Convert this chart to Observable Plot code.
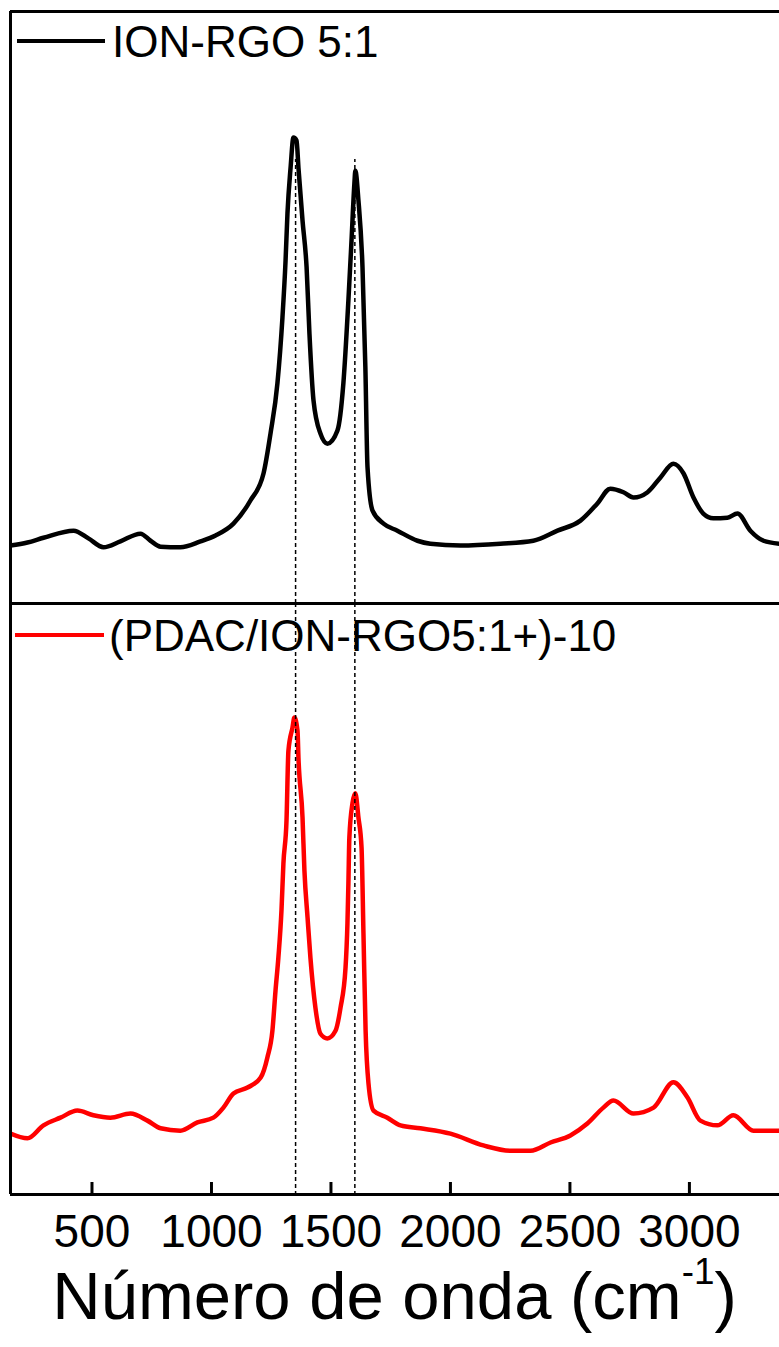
<!DOCTYPE html>
<html>
<head>
<meta charset="utf-8">
<script src="https://cdn.jsdelivr.net/npm/d3@7"></script>
<script src="https://cdn.jsdelivr.net/npm/@observablehq/plot@0.6"></script>
<style>
  html, body { margin: 0; padding: 0; background: #fff; }
  #chart { position: relative; width: 779px; height: 1347px; overflow: hidden;
           font-family: "Liberation Sans", Arial, sans-serif; color: #000; }
  #chart svg { display: block; }
  .leg-line { position: absolute; height: 4px; }
  .leg-text { position: absolute; font-size: 44px; line-height: 44px; white-space: nowrap; }
  #xtitle { position: absolute; left: 10px; width: 769px; text-align: center;
            font-size: 67px; line-height: 67px; white-space: nowrap; }
  #xtitle sup { font-size: 0.55em; vertical-align: 0; position: relative; top: -0.95em; }
</style>
</head>
<body>
<div id="chart"></div>
<script>
// ---- data ----
const seriesNames = ["ION-RGO 5:1", "(PDAC/ION-RGO5:1+)-10"];
const seriesColors = ["#000000", "#ff0000"];

// ION-RGO 5:1 (top panel): wavenumber (cm-1) and intensity (a.u.)
const wavenumberTop = [159, 230, 297, 423, 485, 548, 619, 703, 745, 787, 870, 954, 1017, 1092, 1163, 1218,
  1247, 1276, 1297, 1310, 1318, 1331, 1343, 1356, 1364, 1381, 1398, 1410, 1427, 1456, 1485, 1527, 1552,
  1573, 1586, 1598, 1602, 1615, 1632, 1644, 1653, 1674, 1720, 1778, 1862, 1916, 2042, 2209, 2347, 2448,
  2544, 2615, 2669, 2724, 2766, 2825, 2879, 2933, 2975, 3017, 3058, 3100, 3159, 3201, 3255, 3310, 3377];
const intensityTop = [9.8, 10.3, 11.1, 12.3, 11.0, 9.5, 10.5, 11.8, 10.6, 9.6, 9.5, 10.5, 11.5, 13.5, 17.4, 22.0,
  28.7, 37.2, 48.3, 57.9, 65.9, 73.6, 78.7, 78.2, 73.6, 64.7, 56.8, 45.6, 34.3, 28.7, 27.0, 29.2, 37.2,
  51.2, 61.3, 70.9, 73.1, 68.1, 56.8, 39.9, 23.0, 15.7, 13.5, 12.3, 10.6, 10.1, 9.8, 10.1, 10.6, 12.3,
  14.0, 16.9, 19.4, 18.8, 17.9, 18.8, 21.3, 23.6, 22.0, 17.9, 15.2, 14.4, 14.5, 15.2, 12.3, 10.6, 10.1];

// (PDAC/ION-RGO5:1+)-10 (bottom panel)
const wavenumberBottom = [159, 230, 297, 368, 439, 506, 577, 661, 732, 787, 870, 941, 1008, 1050, 1092, 1151,
  1206, 1234, 1255, 1268, 1280, 1293, 1301, 1314, 1322, 1339, 1347, 1360, 1364, 1381, 1389, 1402, 1414,
  1435, 1456, 1485, 1519, 1540, 1561, 1569, 1573, 1577, 1590, 1602, 1615, 1628, 1636, 1645, 1657, 1678,
  1736, 1791, 1874, 2000, 2138, 2251, 2335, 2419, 2502, 2573, 2640, 2682, 2766, 2850, 2933, 2992, 3046,
  3117, 3184, 3268, 3377];
const intensityBottom = [10.3, 9.5, 11.7, 13.0, 14.2, 13.4, 13.0, 13.7, 12.5, 11.2, 10.8, 12.2, 13.0, 14.7, 17.1, 18.1,
  19.8, 23.2, 27.7, 34.5, 40.1, 48.1, 56.0, 63.3, 75.1, 79.0, 80.7, 78.5, 73.9, 63.8, 54.8, 46.9, 40.1,
  31.6, 27.2, 26.4, 27.7, 31.6, 38.4, 45.9, 52.6, 60.4, 66.2, 67.9, 63.8, 58.7, 44.2, 27.7, 18.8, 14.2,
  13.0, 11.7, 11.2, 10.3, 8.3, 7.4, 7.4, 8.8, 10.0, 12.0, 14.7, 15.9, 13.7, 14.7, 19.0, 16.4, 12.5,
  11.7, 13.4, 10.8, 10.8];

// D and G band guide lines (cm-1) and where they start in the top panel (a.u.)
const bandPositions = [1352, 1600];
const bandTopStart = 75;

const xTicks = [500, 1000, 1500, 2000, 2500, 3000];
const xDomain = [159, 3377];
const yDomain = [0, 100];
const xTitle = "Número de onda (cm";
const xTitleSup = "-1";
const xTitleEnd = ")";

// ---- build ----
const topData = wavenumberTop.map((w, i) => ({w, v: intensityTop[i]}));
const bottomData = wavenumberBottom.map((w, i) => ({w, v: intensityBottom[i]}));
const tickData = xTicks.map((t) => ({t}));
const chart = document.getElementById("chart");
const font = "Liberation Sans, Arial, sans-serif";

const bottomInnerHeight = 591;       // px between the panel divider and the x axis
const tickLengthPx = 12;             // inward tick length
const tickLen = tickLengthPx * (yDomain[1] - yDomain[0]) / bottomInnerHeight;

const topPlot = Plot.plot({
  width: 779, height: 603,
  marginLeft: 10, marginRight: 0, marginTop: 11, marginBottom: 0,
  style: {fontFamily: font, background: "white"},
  x: {domain: xDomain, axis: null},
  y: {domain: yDomain, axis: null},
  marks: [
    Plot.line(topData, {x: "w", y: "v", stroke: seriesColors[0], strokeWidth: 4.5, curve: "monotone-x", clip: true}),
    Plot.ruleX(bandPositions, {y1: yDomain[0], y2: bandTopStart, stroke: "#000", strokeWidth: 1.5, strokeDasharray: "4,3"}),
    Plot.ruleY([yDomain[0], yDomain[1]], {stroke: "#000", strokeWidth: 3}),
    Plot.ruleX([xDomain[0]], {stroke: "#000", strokeWidth: 3})
  ]
});

const bottomPlot = Plot.plot({
  width: 779, height: 660,
  marginLeft: 10, marginRight: 0, marginTop: 0, marginBottom: 660 - bottomInnerHeight,
  style: {fontFamily: font, background: "white"},
  x: {domain: xDomain, axis: null},
  y: {domain: yDomain, axis: null},
  marks: [
    Plot.line(bottomData, {x: "w", y: "v", stroke: seriesColors[1], strokeWidth: 4.5, curve: "monotone-x", clip: true}),
    Plot.ruleX(bandPositions, {stroke: "#000", strokeWidth: 1.5, strokeDasharray: "4,3"}),
    // inward tick marks
    Plot.ruleX(xTicks, {y1: yDomain[0], y2: yDomain[0] + tickLen, stroke: "#000", strokeWidth: 3}),
    // tick labels
    Plot.text(tickData, {x: "t", text: (d) => String(d.t), frameAnchor: "bottom", lineAnchor: "top",
                         dy: 20, fontSize: 46, fill: "#000"}),
    Plot.ruleY([yDomain[0], yDomain[1]], {stroke: "#000", strokeWidth: 3}),
    Plot.ruleX([xDomain[0]], {stroke: "#000", strokeWidth: 3})
  ]
});

chart.appendChild(topPlot);
chart.appendChild(bottomPlot);

// legends (inside each panel)
function legend(i, lineLeft, lineTop, lineWidth, textLeft, textTop) {
  const l = document.createElement("div");
  l.className = "leg-line";
  l.style.left = lineLeft + "px"; l.style.top = lineTop + "px";
  l.style.width = lineWidth + "px"; l.style.background = seriesColors[i];
  chart.appendChild(l);
  const t = document.createElement("div");
  t.className = "leg-text";
  t.style.left = textLeft + "px"; t.style.top = textTop + "px";
  t.textContent = seriesNames[i];
  chart.appendChild(t);
}
legend(0, 17, 39, 88, 112, 20);
legend(1, 15, 633, 89, 109, 614);

// x-axis title with superscript
const title = document.createElement("div");
title.id = "xtitle";
title.style.top = "1262px";
title.append(xTitle);
const sup = document.createElement("sup");
sup.textContent = xTitleSup;
title.append(sup);
title.append(xTitleEnd);
chart.appendChild(title);
</script>
</body>
</html>
